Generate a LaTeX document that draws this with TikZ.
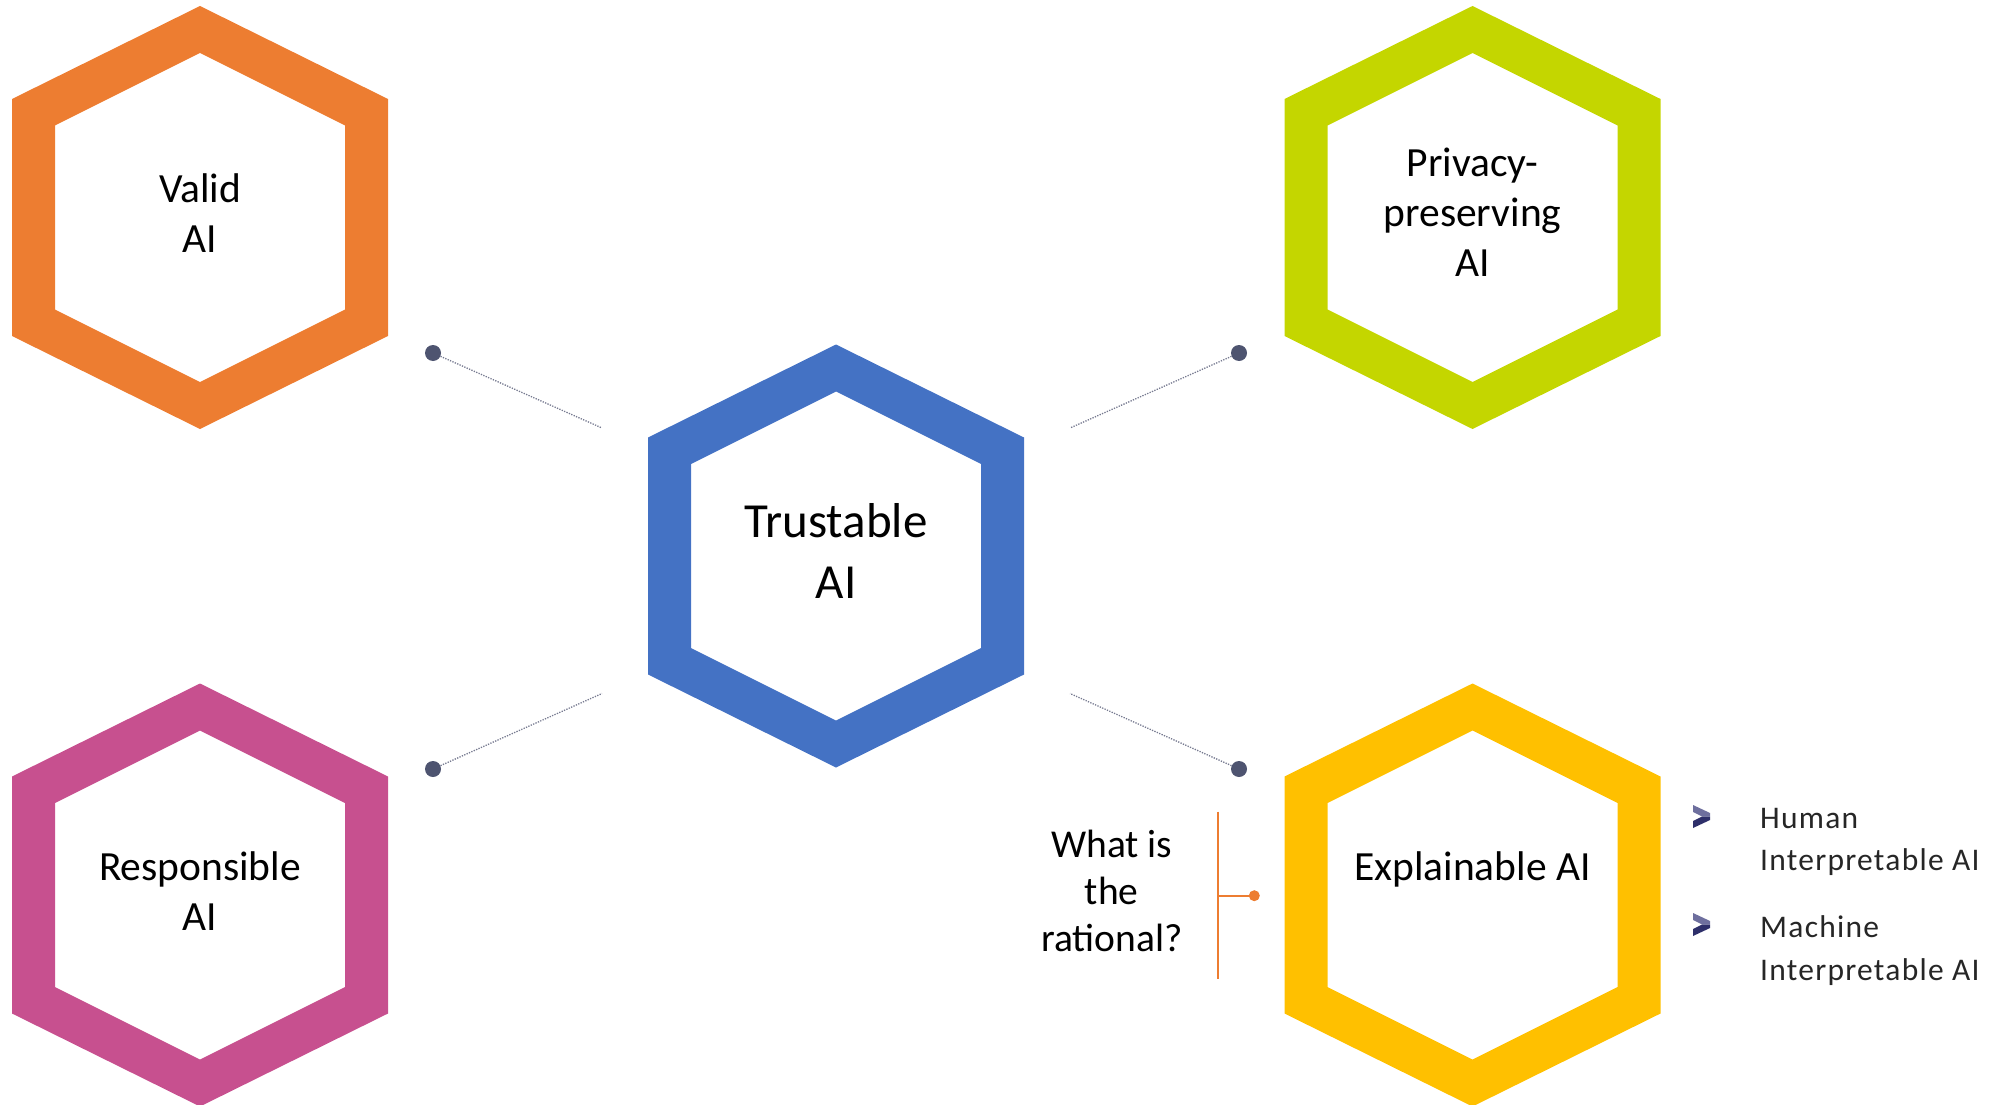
\documentclass[tikz,border=0pt]{standalone}
\usepackage{fontspec}
\setmainfont{Carlito}
\newfontfamily\listfont[LetterSpace=4]{Carlito}
\definecolor{hexorange}{HTML}{ED7D31}
\definecolor{hexblue}{HTML}{4472C4}
\definecolor{hexgreen}{HTML}{C4D600}
\definecolor{hexyellow}{HTML}{FFC000}
\definecolor{hexpink}{HTML}{C7508F}
\definecolor{dotslate}{HTML}{4E5470}
\definecolor{linkgrey}{HTML}{767A90}
\definecolor{chevlight}{HTML}{6E6F9E}
\definecolor{chevdark}{HTML}{2E2F6A}
\definecolor{listtext}{HTML}{262626}

% hexagonal ring around a named centre: #1 centre, #2 colour
\newcommand\hexring[2]{%
  \fill[#2, even odd rule]
    (#1) ++(0,-211.5) -- ++(188,93) -- ++(0,237) -- ++(-188,93)
         -- ++(-188,-93) -- ++(0,-237) -- cycle
    (#1) ++(0,-164.5) -- ++(145,72.5) -- ++(0,184) -- ++(-145,72.5)
         -- ++(-145,-72.5) -- ++(0,-184) -- cycle;}

% two-tone chevron bullet whose upper left corner is #1
\newcommand\chevron[1]{%
  \fill[chevlight] (#1) -- ++(17,8) -- ++(0,3.5) -- ++(-8,0) -- ++(-9,-4.5) -- cycle;
  \fill[chevdark] (#1) ++(9,11.5) -- ++(8,0) -- ++(0,3.5) -- ++(-17,8) -- ++(0,-7) -- cycle;}

\tikzset{
  hexlabel/.style={anchor=base, align=center, inner sep=0pt,
    font=\fontsize{41.5}{50}\selectfont},
  corelabel/.style={anchor=base, align=center, inner sep=0pt,
    font=\fontsize{49}{61}\selectfont},
  asklabel/.style={anchor=base, align=center, inner sep=0pt,
    font=\fontsize{39.5}{47}\selectfont},
  listlabel/.style={anchor=base west, align=left, inner sep=0pt,
    text=listtext, font=\listfont\fontsize{31.5}{42.7}\selectfont},
  hub/.style={circle, fill=dotslate, inner sep=0pt, minimum size=16pt},
  link/.style={linkgrey, line width=1.3pt, dash pattern=on 1.3pt off 1.3pt},
  bracket/.style={hexorange, line width=2pt},
}

\begin{document}
\begin{tikzpicture}[x=1pt, y=-1pt]
  \useasboundingbox (0,0) rectangle (2011,1105);

  % hexagon centres
  \coordinate (valid)   at (200,217.5);
  \coordinate (privacy) at (1472.5,217.5);
  \coordinate (trust)   at (836,556);
  \coordinate (resp)    at (200,895);
  \coordinate (explain) at (1472.5,895);

  \hexring{valid}{hexorange}
  \hexring{privacy}{hexgreen}
  \hexring{trust}{hexblue}
  \hexring{resp}{hexpink}
  \hexring{explain}{hexyellow}

  % labels
  \node[hexlabel]  (validtext)   at (200,252)    {Valid\\AI};
  \node[hexlabel]  (privacytext) at (1472.5,276.7) {Privacy-\\preserving\\AI};
  \node[corelabel] (trusttext)   at (836,598)    {Trustable\\AI};
  \node[hexlabel]  (resptext)    at (200,930)    {Responsible\\AI};
  \node[hexlabel]  (explaintext) at (1472.5,880) {Explainable AI};

  % dotted links from the centre hexagon
  \node[hub] (hubtl) at (433,353) {};
  \node[hub] (hubtr) at (1239,353) {};
  \node[hub] (hubbl) at (433,769) {};
  \node[hub] (hubbr) at (1239,769) {};
  \coordinate (endtl) at (602,428);
  \coordinate (endtr) at (1070,428);
  \coordinate (endbl) at (602,693.5);
  \coordinate (endbr) at (1070,693.5);
  \draw[link] (hubtl) -- (endtl);
  \draw[link] (hubtr) -- (endtr);
  \draw[link] (hubbl) -- (endbl);
  \draw[link] (hubbr) -- (endbr);

  % question attached to the explainable hexagon
  \node[asklabel] (ask) at (1111.7,951.7) {What is\\the\\rational?};
  \coordinate (bartop) at (1217.7,811.7);
  \coordinate (barbot) at (1217.7,979);
  \coordinate (barmid) at (1217.7,895.7);
  \node[circle, fill=hexorange, inner sep=0pt, minimum size=11pt] (askdot) at (1254.3,895.7) {};
  \draw[bracket] (bartop) -- (barbot);
  \draw[bracket] (barmid) -- (askdot.center);

  % list of interpretability kinds
  \coordinate (chevone) at (1693,805);
  \coordinate (chevtwo) at (1693,913);
  \chevron{chevone}
  \chevron{chevtwo}
  \node[listlabel] (human)   at (1760,870.7) {Human\\Interpretable AI};
  \node[listlabel] (machine) at (1760,980)   {Machine\\Interpretable AI};
\end{tikzpicture}
\end{document}
